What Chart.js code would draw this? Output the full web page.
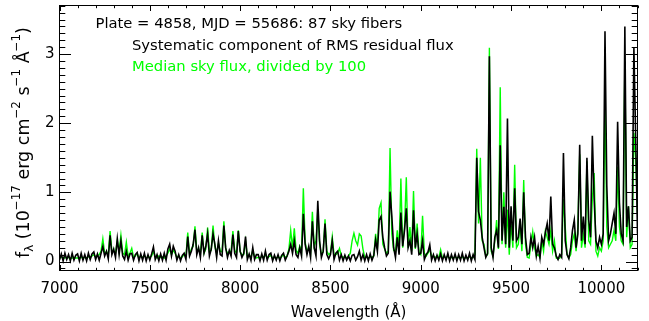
<!DOCTYPE html>
<html>
<head>
<meta charset="utf-8">
<script src="https://cdn.jsdelivr.net/npm/chart.js@4.4.1/dist/chart.umd.min.js"></script>
<style>
  html, body { margin: 0; padding: 0; background: #fff; }
  #chart { display: block; }
</style>
</head>
<body>
<canvas id="chart" width="649" height="321"></canvas>
<script>
// Wavelength grid (Angstrom), one row per 100 A
const wavelength = [
  7000, 7010, 7020, 7030, 7040, 7050, 7060, 7070, 7080, 7090,
  7100, 7110, 7120, 7130, 7140, 7150, 7160, 7170, 7180, 7190,
  7200, 7210, 7220, 7230, 7240, 7250, 7260, 7270, 7280, 7290,
  7300, 7310, 7320, 7330, 7340, 7350, 7360, 7370, 7380, 7390,
  7400, 7410, 7420, 7430, 7440, 7450, 7460, 7470, 7480, 7490,
  7500, 7510, 7520, 7530, 7540, 7550, 7560, 7570, 7580, 7590,
  7600, 7610, 7620, 7630, 7640, 7650, 7660, 7670, 7680, 7690,
  7700, 7710, 7720, 7730, 7740, 7750, 7760, 7770, 7780, 7790,
  7800, 7810, 7820, 7830, 7840, 7850, 7860, 7870, 7880, 7890,
  7900, 7910, 7920, 7930, 7940, 7950, 7960, 7970, 7980, 7990,
  8000, 8010, 8020, 8030, 8040, 8050, 8060, 8070, 8080, 8090,
  8100, 8110, 8120, 8130, 8140, 8150, 8160, 8170, 8180, 8190,
  8200, 8210, 8220, 8230, 8240, 8250, 8260, 8270, 8280, 8290,
  8300, 8310, 8320, 8330, 8340, 8350, 8360, 8370, 8380, 8390,
  8400, 8410, 8420, 8430, 8440, 8450, 8460, 8470, 8480, 8490,
  8500, 8510, 8520, 8530, 8540, 8550, 8560, 8570, 8580, 8590,
  8600, 8610, 8620, 8630, 8640, 8650, 8660, 8670, 8680, 8690,
  8700, 8710, 8720, 8730, 8740, 8750, 8760, 8770, 8780, 8790,
  8800, 8810, 8820, 8830, 8840, 8850, 8860, 8870, 8880, 8890,
  8900, 8910, 8920, 8930, 8940, 8950, 8960, 8970, 8980, 8990,
  9000, 9010, 9020, 9030, 9040, 9050, 9060, 9070, 9080, 9090,
  9100, 9110, 9120, 9130, 9140, 9150, 9160, 9170, 9180, 9190,
  9200, 9210, 9220, 9230, 9240, 9250, 9260, 9270, 9280, 9290,
  9300, 9310, 9320, 9330, 9340, 9350, 9360, 9370, 9380, 9390,
  9400, 9410, 9420, 9430, 9440, 9450, 9460, 9470, 9480, 9490,
  9500, 9510, 9520, 9530, 9540, 9550, 9560, 9570, 9580, 9590,
  9600, 9610, 9620, 9630, 9640, 9650, 9660, 9670, 9680, 9690,
  9700, 9710, 9720, 9730, 9740, 9750, 9760, 9770, 9780, 9790,
  9800, 9810, 9820, 9830, 9840, 9850, 9860, 9870, 9880, 9890,
  9900, 9910, 9920, 9930, 9940, 9950, 9960, 9970, 9980, 9990,
  10000, 10010, 10020, 10030, 10040, 10050, 10060, 10070, 10080, 10090,
  10100, 10110, 10120, 10130, 10140, 10150, 10160, 10170, 10180, 10190,
  10200
];

// Systematic component of RMS residual flux (black)
const rmsResidual = [
  0.02, 0.11, 0.01, 0.12, 0.03, 0.10, 0.01, 0.12, 0.02, 0.09,
  0.11, 0.01, 0.12, 0.02, 0.10, 0.01, 0.12, 0.03, 0.11, 0.14,
  0.03, 0.11, 0.02, 0.12, 0.22, 0.08, 0.15, 0.04, 0.38, 0.10,
  0.18, 0.06, 0.33, 0.10, 0.30, 0.08, 0.03, 0.15, 0.02, 0.11,
  0.12, 0.02, 0.10, 0.13, 0.01, 0.11, 0.02, 0.12, 0.01, 0.10,
  0.02, 0.11, 0.21, 0.03, 0.10, 0.01, 0.11, 0.02, 0.12, 0.02,
  0.18, 0.25, 0.08, 0.22, 0.15, 0.02, 0.10, 0.01, 0.09, 0.12,
  0.03, 0.36, 0.08, 0.15, 0.25, 0.46, 0.10, 0.20, 0.06, 0.38,
  0.12, 0.22, 0.40, 0.08, 0.18, 0.40, 0.25, 0.06, 0.30, 0.10,
  0.08, 0.52, 0.20, 0.06, 0.16, 0.08, 0.39, 0.12, 0.06, 0.44,
  0.15, 0.06, 0.12, 0.36, 0.03, 0.11, 0.02, 0.20, 0.03, 0.10,
  0.10, 0.01, 0.11, 0.02, 0.15, 0.02, 0.10, 0.12, 0.01, 0.09,
  0.02, 0.10, 0.01, 0.09, 0.12, 0.02, 0.08, 0.15, 0.25, 0.12,
  0.30, 0.10, 0.06, 0.20, 0.08, 0.69, 0.25, 0.10, 0.22, 0.06,
  0.58, 0.20, 0.08, 0.88, 0.30, 0.06, 0.15, 0.55, 0.10, 0.04,
  0.10, 0.30, 0.03, 0.12, 0.15, 0.02, 0.10, 0.01, 0.09, 0.02,
  0.08, 0.01, 0.09, 0.10, 0.02, 0.07, 0.15, 0.02, 0.10, 0.01,
  0.10, 0.01, 0.11, 0.02, 0.09, 0.31, 0.15, 0.60, 0.65, 0.35,
  0.20, 0.08, 0.12, 1.01, 0.65, 0.20, 0.06, 0.35, 0.10, 0.71,
  0.22, 0.45, 0.77, 0.20, 0.30, 0.10, 0.74, 0.20, 0.40, 0.10,
  0.12, 0.30, 0.03, 0.10, 0.14, 0.24, 0.02, 0.10, 0.01, 0.09,
  0.02, 0.11, 0.01, 0.10, 0.02, 0.12, 0.01, 0.10, 0.02, 0.11,
  0.01, 0.10, 0.02, 0.12, 0.01, 0.09, 0.02, 0.12, 0.01, 0.10,
  0.03, 1.50, 0.72, 0.60, 0.35, 0.20, 0.06, 0.12, 2.97, 0.20,
  0.06, 0.35, 0.45, 0.20, 1.68, 0.30, 0.79, 0.25, 2.07, 0.20,
  0.80, 0.30, 1.06, 0.30, 0.35, 0.62, 0.25, 1.00, 0.35, 0.10,
  0.12, 0.35, 0.20, 0.35, 0.08, 0.22, 0.05, 0.35, 0.25, 0.42,
  0.55, 0.30, 0.94, 0.25, 0.20, 0.08, 0.03, 0.10, 0.06, 1.57,
  0.30, 0.10, 0.04, 0.20, 0.45, 0.60, 0.20, 0.40, 1.69, 0.30,
  0.65, 0.25, 1.50, 0.60, 0.35, 1.82, 0.90, 0.30, 0.20, 0.35,
  0.25, 0.40, 3.33, 1.10, 0.30, 0.40, 0.55, 0.70, 0.40, 2.02,
  0.85, 0.40, 0.30, 3.40, 0.50, 0.80, 0.30, 0.35, 3.09, 1.80,
  0.40
];

// Median sky flux divided by 100 (green)
const skyFluxOver100 = [
  0.05, 0.07, 0.04, 0.06, 0.05, 0.06, 0.04, 0.05, 0.06, 0.05,
  0.05, 0.05, 0.06, 0.05, 0.06, 0.05, 0.07, 0.06, 0.08, 0.10,
  0.07, 0.08, 0.10, 0.15, 0.33, 0.12, 0.14, 0.10, 0.44, 0.15,
  0.15, 0.12, 0.30, 0.14, 0.38, 0.12, 0.10, 0.28, 0.08, 0.12,
  0.19, 0.06, 0.08, 0.12, 0.05, 0.08, 0.06, 0.09, 0.05, 0.07,
  0.06, 0.08, 0.15, 0.07, 0.05, 0.08, 0.06, 0.07, 0.05, 0.08,
  0.12, 0.18, 0.10, 0.16, 0.12, 0.06, 0.08, 0.05, 0.07, 0.10,
  0.08, 0.42, 0.10, 0.18, 0.22, 0.51, 0.15, 0.18, 0.12, 0.42,
  0.12, 0.18, 0.49, 0.14, 0.16, 0.52, 0.22, 0.12, 0.26, 0.15,
  0.14, 0.58, 0.18, 0.12, 0.14, 0.15, 0.44, 0.16, 0.12, 0.45,
  0.14, 0.10, 0.10, 0.30, 0.07, 0.09, 0.06, 0.16, 0.07, 0.05,
  0.06, 0.05, 0.07, 0.06, 0.10, 0.05, 0.07, 0.09, 0.05, 0.06,
  0.05, 0.07, 0.05, 0.07, 0.10, 0.06, 0.08, 0.18, 0.45, 0.20,
  0.48, 0.16, 0.12, 0.22, 0.14, 1.06, 0.28, 0.14, 0.20, 0.12,
  0.72, 0.22, 0.30, 0.75, 0.25, 0.10, 0.14, 0.61, 0.15, 0.10,
  0.12, 0.36, 0.10, 0.10, 0.12, 0.19, 0.08, 0.06, 0.07, 0.05,
  0.08, 0.12, 0.30, 0.41, 0.30, 0.24, 0.40, 0.37, 0.18, 0.06,
  0.06, 0.05, 0.07, 0.06, 0.08, 0.40, 0.18, 0.77, 0.85, 0.25,
  0.18, 0.12, 0.15, 1.64, 0.40, 0.16, 0.14, 0.45, 0.18, 1.20,
  0.20, 0.48, 1.22, 0.20, 0.50, 0.15, 1.02, 0.18, 0.55, 0.14,
  0.10, 0.66, 0.12, 0.08, 0.12, 0.18, 0.07, 0.08, 0.06, 0.07,
  0.06, 0.17, 0.05, 0.07, 0.05, 0.08, 0.04, 0.06, 0.05, 0.07,
  0.05, 0.06, 0.05, 0.07, 0.04, 0.06, 0.05, 0.07, 0.05, 0.06,
  0.10, 1.63, 0.55, 1.50, 0.30, 0.25, 0.08, 0.10, 3.09, 0.15,
  0.08, 0.30, 0.60, 0.18, 2.52, 0.25, 1.00, 0.20, 0.75, 0.10,
  0.55, 0.20, 1.40, 0.20, 0.25, 0.55, 0.15, 1.18, 0.25, 0.06,
  0.05, 0.25, 0.43, 0.20, 0.08, 0.10, 0.06, 0.30, 0.15, 0.44,
  0.35, 0.25, 0.45, 0.15, 0.30, 0.05, 0.04, 0.05, 0.10, 0.90,
  0.50, 0.10, 0.05, 0.10, 0.30, 0.40, 0.15, 0.50, 1.55, 0.20,
  0.40, 0.20, 1.45, 0.30, 0.25, 0.90, 1.28, 0.15, 0.08, 0.20,
  0.15, 0.30, 2.41, 0.50, 0.20, 0.25, 0.30, 0.45, 0.30, 1.37,
  0.50, 0.30, 0.25, 2.90, 0.35, 0.80, 0.20, 0.25, 1.86, 1.50,
  0.70
];

const xTickValues = [7000, 7500, 8000, 8500, 9000, 9500, 10000];
const yTickValues = [0, 1, 2, 3];

const FONT = '"DejaVu Sans", sans-serif';
const GREEN = '#00ff00';

// frame with inward ticks on all four sides, IDL style
const frameTicks = {
  id: 'frameTicks',
  afterDatasetsDraw(chart) {
    const { ctx, chartArea: a, scales: { x, y } } = chart;
    const L = Math.floor(a.left) + 0.5, R = Math.floor(a.right) + 0.5;
    const T = Math.floor(a.top) + 0.5, B = Math.floor(a.bottom) + 0.5;
    ctx.save();
    ctx.strokeStyle = '#000';
    ctx.lineWidth = 1;
    ctx.beginPath();
    for (let w = 7000; w <= 10200; w += 100) {
      const px = Math.round(x.getPixelForValue(w)) + 0.5;
      const len = w % 500 === 0 ? 5.5 : 2.7;
      ctx.moveTo(px, B); ctx.lineTo(px, B - len);
      ctx.moveTo(px, T); ctx.lineTo(px, T + len);
    }
    for (let i = -1; i <= 37; i++) {
      const v = i / 10;
      if (v < y.min || v > y.max) continue;
      const py = Math.round(y.getPixelForValue(v)) + 0.5;
      const len = i % 10 === 0 ? 11.5 : 5.8;
      ctx.moveTo(L, py); ctx.lineTo(L + len, py);
      ctx.moveTo(R, py); ctx.lineTo(R - len, py);
    }
    ctx.stroke();
    ctx.strokeRect(L, T, R - L, B - T);
    ctx.restore();
  }
};

// text pieces: annotations, axis titles
function richWidth(ctx, parts, size) {
  let w = 0;
  parts.forEach(p => {
    const s = p[1] === 'n' ? size : size * 0.68;
    ctx.font = s + 'px ' + FONT;
    w += ctx.measureText(p[0]).width;
  });
  return w;
}

const labels = {
  id: 'labels',
  afterDraw(chart) {
    const { ctx, chartArea: a } = chart;
    ctx.save();
    ctx.textBaseline = 'alphabetic';
    ctx.textAlign = 'left';

    // annotation lines, sized so the second line spans its width in the reference
    ctx.font = '14px ' + FONT;
    const fit = 14 * 322 / ctx.measureText('Systematic component of RMS residual flux').width;
    ctx.font = fit + 'px ' + FONT;
    ctx.fillStyle = '#000';
    ctx.fillText('Plate = 4858, MJD = 55686: 87 sky fibers', 95.5, 22.7 + 0.36 * fit);
    ctx.fillText('Systematic component of RMS residual flux', 132, 44.3 + 0.36 * fit);
    ctx.fillStyle = GREEN;
    ctx.fillText('Median sky flux, divided by 100', 132, 65.2 + 0.36 * fit);

    // x title
    ctx.fillStyle = '#000';
    ctx.font = '15px ' + FONT;
    ctx.textAlign = 'center';
    ctx.fillText('Wavelength (\u00c5)', (a.left + a.right) / 2, 311.7 + 0.36 * 15);

    // y title with sub/superscripts, rotated
    const parts = [['f', 'n'], ['\u03bb', 'sub'], [' (10', 'n'], ['\u221217', 'sup'],
      [' erg cm', 'n'], ['\u22122', 'sup'], [' s', 'n'], ['\u22121', 'sup'],
      [' \u00c5', 'n'], ['\u22121', 'sup'], [')', 'n']];
    const size = 15 * 231 / richWidth(ctx, parts, 15);
    const total = richWidth(ctx, parts, size);
    ctx.translate(29, 142.5);
    ctx.rotate(-Math.PI / 2);
    ctx.textAlign = 'left';
    let cx = -total / 2;
    parts.forEach(p => {
      const s = p[1] === 'n' ? size : size * 0.68;
      const dy = p[1] === 'sup' ? -size * 0.5 : (p[1] === 'sub' ? size * 0.25 : 0);
      ctx.font = s + 'px ' + FONT;
      ctx.fillText(p[0], cx, dy);
      cx += ctx.measureText(p[0]).width;
    });
    ctx.restore();
  }
};

const ctx = document.getElementById('chart').getContext('2d');
new Chart(ctx, {
  type: 'line',
  data: {
    datasets: [{
      label: 'Systematic component of RMS residual flux',
      data: wavelength.map((w, i) => ({ x: w, y: rmsResidual[i] })),
      borderColor: '#000',
      borderWidth: 1.6,
      pointRadius: 0,
      tension: 0,
      order: 0
    }, {
      label: 'Median sky flux, divided by 100',
      data: wavelength.map((w, i) => ({ x: w, y: skyFluxOver100[i] })),
      borderColor: GREEN,
      borderWidth: 1.4,
      pointRadius: 0,
      tension: 0,
      order: 1
    }]
  },
  options: {
    responsive: false,
    animation: false,
    devicePixelRatio: 1,
    layout: { padding: { left: 0, right: 11.5, top: 5, bottom: 0 } },
    plugins: { legend: { display: false }, tooltip: { enabled: false } },
    scales: {
      x: {
        type: 'linear',
        min: 7000,
        max: 10200,
        grid: { display: false, drawTicks: false },
        border: { display: false },
        afterBuildTicks: scale => { scale.ticks = xTickValues.map(v => ({ value: v })); },
        afterFit: scale => {
          scale.height = 50.5;
          scale.paddingLeft = 0;
          scale.paddingRight = 0;
        },
        ticks: {
          color: '#000',
          font: { family: FONT, size: 15 },
          padding: 10,
          maxRotation: 0,
          autoSkip: false,
          callback: v => String(v)
        }
      },
      y: {
        type: 'linear',
        min: -0.13,
        max: 3.71,
        grid: { display: false, drawTicks: false },
        border: { display: false },
        afterBuildTicks: scale => { scale.ticks = yTickValues.map(v => ({ value: v })); },
        afterFit: scale => {
          scale.width = 59.5;
          scale.paddingTop = 0;
          scale.paddingBottom = 0;
        },
        ticks: {
          color: '#000',
          font: { family: FONT, size: 15 },
          padding: 5,
          callback: v => String(v)
        }
      }
    }
  },
  plugins: [frameTicks, labels]
});
</script>
</body>
</html>
